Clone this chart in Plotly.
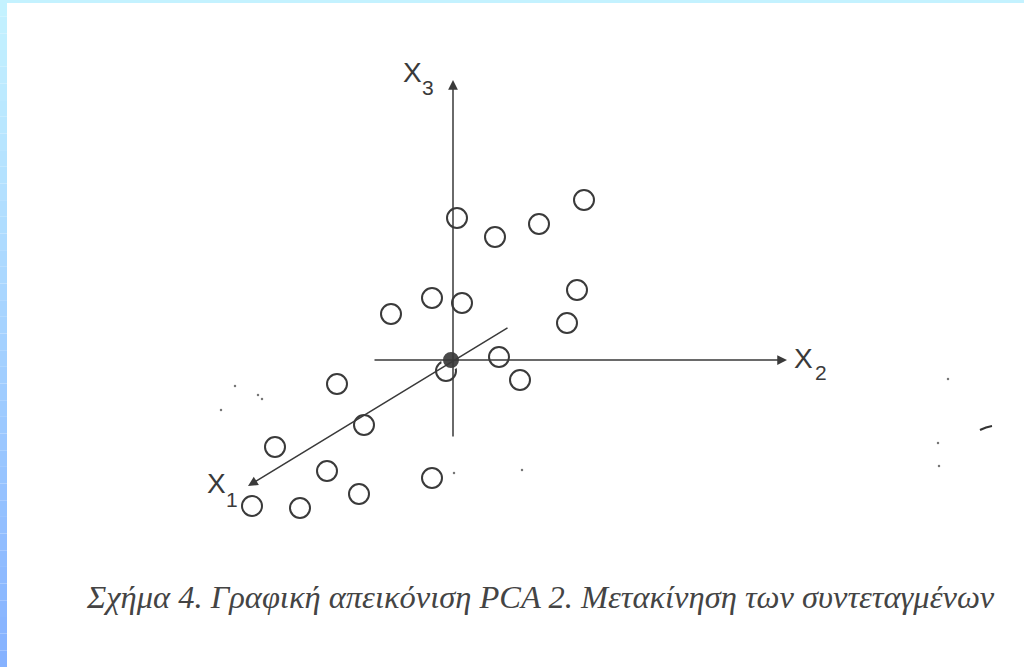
import plotly.graph_objects as go

# Observations projected on the (X2, X3) plane, origin at the centroid
obs_x2 = [6, 44, 88, 133, -19, 11, -60, 126, 116, 48, 69, -5,
          -114, -87, -176, -124, -92, -19, -199, -151]
obs_x3 = [142, 123, 136, 160, 62, 57, 46, 70, 37, 3, -20, -11,
          -24, -65, -87, -111, -134, -118, -146, -148]

# Centroid (new origin of the coordinate system)
origin_x2 = [0]
origin_x3 = [0]

# Axis segments: (tail, head)
axis_tail = [(-78, 0), (2, -78), (58, 33)]
axis_head = [(336, 0), (2, 280), (-203, -126)]

# Axis labels: letter and index, each with its anchor point
axis_letter = ["X", "X", "X"]
axis_index = ["2", "3", "1"]
letter_pos = [(352, 2), (-39, 288), (-234.5, -123)]
index_pos = [(370, -12.5), (-23, 272.5), (-219.5, -139)]

caption = "Σχήμα 4. Γραφική απεικόνιση PCA 2. Μετακίνηση των συντεταγμένων"

# Scan specks
speck_x2 = [-216, -193, -189, -230, 497, 487, 488, 3, 71]
speck_x3 = [-26, -35, -39, -50, -19, -83, -106, -113, -110]

INK = "#3a3a3a"
W, H = 1024, 667
X_RANGE = [-451, 573]
Y_RANGE = [-307, 360]

fig = go.Figure()

fig.add_trace(go.Scatter(
    x=speck_x2, y=speck_x3, mode="markers",
    marker=dict(size=2.5, color="#777"), hoverinfo="skip"))

fig.add_trace(go.Scatter(
    x=obs_x2, y=obs_x3, mode="markers",
    marker=dict(symbol="circle-open", size=20, color=INK, line=dict(width=2, color=INK)),
    hoverinfo="skip"))

# axes with arrow heads
for (tx, ty), (hx, hy) in zip(axis_tail, axis_head):
    fig.add_annotation(x=hx, y=hy, ax=tx, ay=ty, xref="x", yref="y",
                       axref="x", ayref="y", text="", showarrow=True,
                       arrowhead=2, arrowsize=1.3, arrowwidth=1.5, arrowcolor=INK)

fig.add_trace(go.Scatter(
    x=origin_x2, y=origin_x3, mode="markers",
    marker=dict(size=18, color="#4a4a4a", line=dict(width=2, color="white")),
    hoverinfo="skip"))

# axis labels
label_font = "Liberation Sans, Arial"
for letter, (lx, ly) in zip(axis_letter, letter_pos):
    fig.add_annotation(x=lx, y=ly, xref="x", yref="y", text=letter, showarrow=False,
                       xanchor="center", yanchor="middle",
                       font=dict(family=label_font, size=28, color=INK))
for idx, (ix, iy) in zip(axis_index, index_pos):
    fig.add_annotation(x=ix, y=iy, xref="x", yref="y", text=idx, showarrow=False,
                       xanchor="center", yanchor="middle",
                       font=dict(family=label_font, size=21, color=INK))

# scan dash at right
fig.add_shape(type="path", path="M 529 -70 Q 535 -67 541 -66", xref="x", yref="y",
              line=dict(color="#333", width=2))

fig.add_annotation(x=89, y=-237, xref="x", yref="y", text=caption, showarrow=False,
                   xanchor="center", yanchor="middle",
                   font=dict(family="Liberation Serif, Times New Roman", size=32.5,
                             color="#444", style="italic"))

# page frame: light top strip and graded left strip
fig.add_shape(type="rect", xref="paper", yref="paper", x0=0, x1=1, y0=1 - 3 / H, y1=1,
              fillcolor="#c4f2ff", line_width=0, layer="below")
top_c = (0xc4, 0xf2, 0xff)
bot_c = (0x86, 0xb2, 0xff)
n = 40
for i in range(n):
    t = i / (n - 1)
    c = tuple(round(a + (b - a) * t) for a, b in zip(top_c, bot_c))
    fig.add_shape(type="rect", xref="paper", yref="paper",
                  x0=0, x1=7 / W, y0=1 - (i + 1) / n, y1=1 - i / n,
                  fillcolor="rgb(%d,%d,%d)" % c, line_width=0, layer="below")

fig.update_layout(
    width=W, height=H, autosize=False,
    margin=dict(l=0, r=0, t=0, b=0),
    paper_bgcolor="white", plot_bgcolor="white",
    showlegend=False,
    xaxis=dict(range=X_RANGE, visible=False, fixedrange=True),
    yaxis=dict(range=Y_RANGE, visible=False, fixedrange=True),
)

fig.write_html("out.html", config={"displayModeBar": False})
